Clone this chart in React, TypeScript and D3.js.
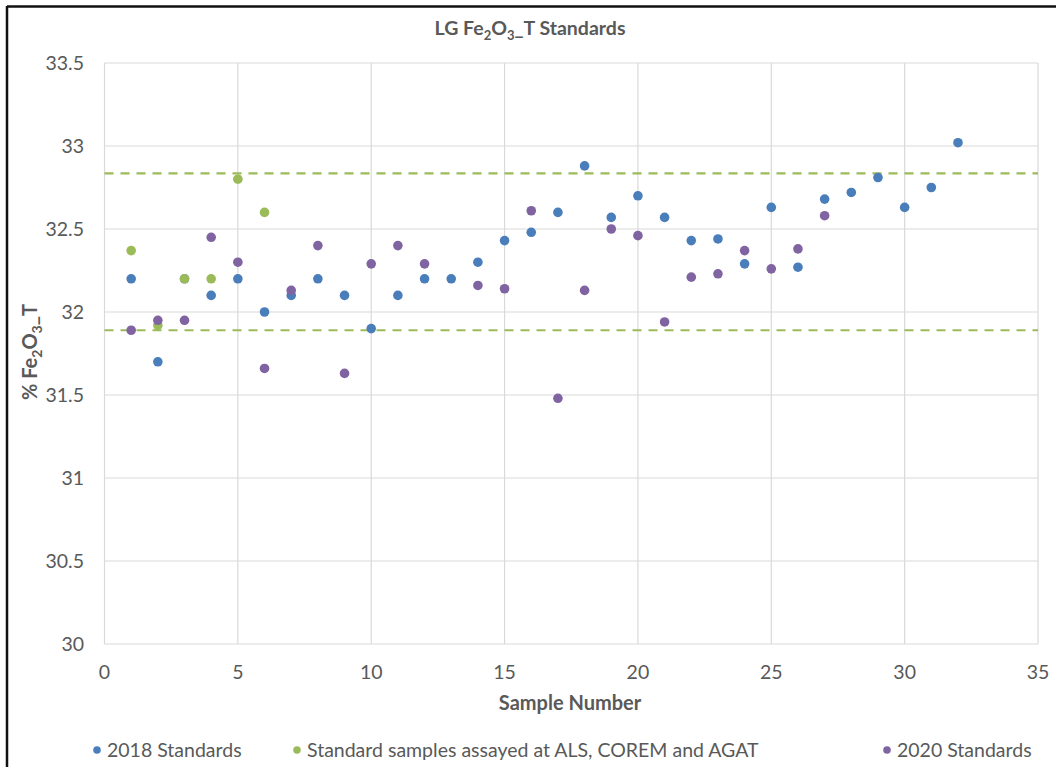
import React, { useEffect, useRef } from 'react';
import * as d3 from 'd3';

const samples2018 = [1, 2, 3, 4, 5, 6, 7, 8, 9, 10, 11, 12, 13, 14, 15, 16, 17, 18, 19, 20, 21, 22, 23, 24, 25, 26, 27, 28, 29, 30, 31, 32];
const values2018 = [32.2, 31.7, 32.2, 32.1, 32.2, 32.0, 32.1, 32.2, 32.1, 31.9, 32.1, 32.2, 32.2, 32.3, 32.43, 32.48, 32.6, 32.88, 32.57, 32.7, 32.57, 32.43, 32.44, 32.29, 32.63, 32.27, 32.68, 32.72, 32.81, 32.63, 32.75, 33.02];

const samplesLab = [1, 2, 3, 4, 5, 6];
const valuesLab = [32.37, 31.92, 32.2, 32.2, 32.8, 32.6];

const samples2020 = [1, 2, 3, 4, 5, 6, 7, 8, 9, 10, 11, 12, 14, 15, 16, 17, 18, 19, 20, 21, 22, 23, 24, 25, 26, 27];
const values2020 = [31.89, 31.95, 31.95, 32.45, 32.3, 31.66, 32.13, 32.4, 31.63, 32.29, 32.4, 32.29, 32.16, 32.14, 32.61, 31.48, 32.13, 32.5, 32.46, 31.94, 32.21, 32.23, 32.37, 32.26, 32.38, 32.58];

const limits = [31.89, 32.835];
const xTicks = [0, 5, 10, 15, 20, 25, 30, 35];
const yTicks = [30, 30.5, 31, 31.5, 32, 32.5, 33, 33.5];

const seriesNames = ['2018 Standards', 'Standard samples assayed at ALS, COREM and AGAT', '2020 Standards'];
const seriesColors = ['#4a7ebb', '#9bbb59', '#8064a2'];

const font = 'Lato, "Open Sans", sans-serif';

const Chart = () => {
  const svgRef = useRef<SVGSVGElement>(null);

  useEffect(() => {
    const width = 1056;
    const height = 767;
    const margin = { left: 104.5, right: 18, top: 63, bottom: 123 };

    const svg = d3.select(svgRef.current).attr('width', width).attr('height', height);
    svg.selectAll('*').remove();

    svg.append('rect').attr('width', width).attr('height', height).attr('fill', '#fff');
    // frame (only top and left edges visible)
    svg.append('line').attr('x1', 7).attr('x2', width).attr('y1', 6.5).attr('y2', 6.5).attr('stroke', '#111').attr('stroke-width', 2.5);
    svg.append('line').attr('x1', 7).attr('x2', 7).attr('y1', 6).attr('y2', height).attr('stroke', '#111').attr('stroke-width', 2.5);

    const x = d3.scaleLinear().domain([0, 35]).range([margin.left, width - margin.right]);
    const y = d3.scaleLinear().domain([30, 33.5]).range([height - margin.bottom, margin.top]);

    // grid
    const g = svg.append('g');
    g.selectAll('.vgrid')
      .data(xTicks)
      .enter()
      .append('line')
      .attr('x1', (d) => x(d))
      .attr('x2', (d) => x(d))
      .attr('y1', y(30))
      .attr('y2', y(33.5))
      .attr('stroke', '#d9d9d9')
      .attr('stroke-width', 1.2);
    g.selectAll('.hgrid')
      .data(yTicks)
      .enter()
      .append('line')
      .attr('x1', x(0))
      .attr('x2', x(35))
      .attr('y1', (d) => y(d))
      .attr('y2', (d) => y(d))
      .attr('stroke', '#d9d9d9')
      .attr('stroke-width', 1.2);

    // tick labels
    g.selectAll('.xt')
      .data(xTicks)
      .enter()
      .append('text')
      .attr('x', (d) => x(d))
      .attr('y', y(30) + 35)
      .attr('text-anchor', 'middle')
      .attr('font-family', font)
      .attr('font-size', '19.5px')
      .attr('fill', '#595959')
      .text((d) => d);
    g.selectAll('.yt')
      .data(yTicks)
      .enter()
      .append('text')
      .attr('x', 84)
      .attr('y', (d) => y(d))
      .attr('dy', '0.35em')
      .attr('text-anchor', 'end')
      .attr('font-family', font)
      .attr('font-size', '19.5px')
      .attr('fill', '#595959')
      .text((d) => d);

    // limit lines
    g.selectAll('.limit')
      .data(limits)
      .enter()
      .append('line')
      .attr('x1', x(0))
      .attr('x2', x(35))
      .attr('y1', (d) => y(d))
      .attr('y2', (d) => y(d))
      .attr('stroke', '#9bbb59')
      .attr('stroke-width', 2.2)
      .attr('stroke-dasharray', '9,7');

    // points
    const series = [
      { xs: samples2018, ys: values2018, color: seriesColors[0] },
      { xs: samplesLab, ys: valuesLab, color: seriesColors[1] },
      { xs: samples2020, ys: values2020, color: seriesColors[2] },
    ];
    series.forEach((s) => {
      g.append('g')
        .selectAll('circle')
        .data(s.xs.map((v, i) => [v, s.ys[i]]))
        .enter()
        .append('circle')
        .attr('cx', (d) => x(d[0]))
        .attr('cy', (d) => y(d[1]))
        .attr('r', 4.8)
        .attr('fill', s.color);
    });

    // titles
    const title = svg.append('text')
      .attr('x', 530)
      .attr('y', 35)
      .attr('text-anchor', 'middle')
      .attr('font-family', font)
      .attr('font-weight', 'bold')
      .attr('font-size', '19.5px')
      .attr('fill', '#595959');
    title.append('tspan').text('LG Fe');
    title.append('tspan').attr('font-size', '13px').attr('dy', 5).text('2');
    title.append('tspan').attr('dy', -5).text('O');
    title.append('tspan').attr('font-size', '13px').attr('dy', 5).text('3');
    title.append('tspan').attr('dy', -5).text('_T Standards');

    svg.append('text')
      .attr('x', 570)
      .attr('y', 710)
      .attr('text-anchor', 'middle')
      .attr('font-family', font)
      .attr('font-weight', 'bold')
      .attr('font-size', '20px')
      .attr('fill', '#595959')
      .text('Sample Number');

    const yt = svg.append('text')
      .attr('transform', 'translate(37, 352) rotate(-90)')
      .attr('text-anchor', 'middle')
      .attr('font-family', font)
      .attr('font-weight', 'bold')
      .attr('font-size', '20px')
      .attr('fill', '#595959');
    yt.append('tspan').text('% Fe');
    yt.append('tspan').attr('font-size', '14px').attr('dy', 5).text('2');
    yt.append('tspan').attr('dy', -5).text('O');
    yt.append('tspan').attr('font-size', '14px').attr('dy', 5).text('3');
    yt.append('tspan').attr('dy', -5).text('_T');

    // legend
    const legendX = [97, 297, 887];
    seriesNames.forEach((name, i) => {
      const lg = svg.append('g').attr('transform', `translate(${legendX[i]}, 750)`);
      lg.append('circle').attr('r', 3.8).attr('fill', seriesColors[i]);
      lg.append('text')
        .attr('x', 10)
        .attr('dy', '0.35em')
        .attr('font-family', font)
        .attr('font-size', '19.5px')
        .attr('fill', '#595959')
        .text(name);
    });
  }, []);

  return <svg ref={svgRef} style={{ position: 'absolute', left: 0, top: 0 }}></svg>;
};

export default function App() {
  return <Chart />;
}
